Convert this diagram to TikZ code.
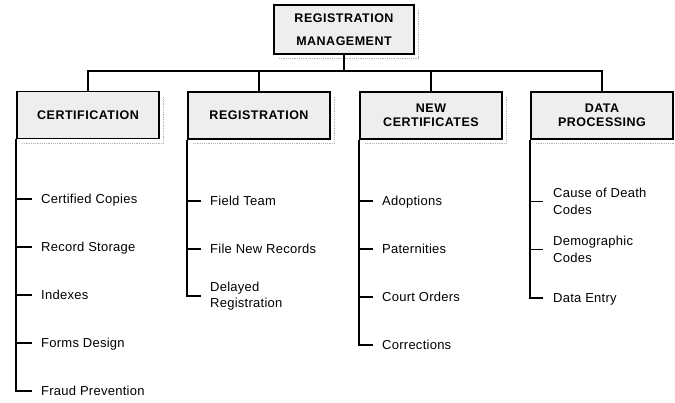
\documentclass[tikz,border=0pt]{standalone}
\usepackage{fontspec}
\setmainfont{Liberation Sans}
\newfontfamily\headfont[LetterSpace=4]{Liberation Sans}
\newfontfamily\itemfont[LetterSpace=2]{Liberation Sans}
\begin{document}
\begin{tikzpicture}[x=1pt,y=-1pt,
  unitbox/.style={draw=black, line width=1.5pt, fill=gray!13,
    minimum width=142pt, minimum height=47pt, inner sep=0pt, align=center,
    font=\headfont\bfseries\fontsize{12.5}{14}\selectfont},
  topbox/.style={unitbox, minimum width=140pt, minimum height=49pt,
    font=\headfont\bfseries\fontsize{12.5}{23}\selectfont},
  shadowline/.style={draw=gray!60, line width=1.2pt, densely dotted},
  link/.style={draw=black, line width=1.6pt},
  item/.style={anchor=west, inner sep=0pt, align=left,
    font=\itemfont\fontsize{13}{16.5}\selectfont},
  oneline/.style={item, text height=9.3pt, text depth=0pt}
]
\useasboundingbox (0,0) rectangle (675,403);

% shadows behind the unit boxes
\newcommand{\boxshadow}[1]{%
  \draw[shadowline] ([xshift=4pt,yshift=-6pt]#1.north east)
    -- ([xshift=4pt,yshift=-4pt]#1.south east)
    -- ([xshift=6pt,yshift=-4pt]#1.south west);}

% management and its four units
\node[topbox] (top) at (344,29.5) {REGISTRATION\\MANAGEMENT};
\node[unitbox] (cert) at (88,115) {CERTIFICATION};
\node[unitbox] (reg) at (259,115.5) {REGISTRATION};
\node[unitbox] (newc) at (431,115.5) {NEW\\CERTIFICATES};
\node[unitbox] (data) at (602,115.5) {DATA\\PROCESSING};
\boxshadow{top}
\boxshadow{cert}
\boxshadow{reg}
\boxshadow{newc}
\boxshadow{data}

% bus joining the units to management
\coordinate (bus) at (0,71);
\draw[link] (top.south) -- (top.south |- bus);
\draw[link] (cert.north) -- (cert.north |- bus) -- (data.north |- bus) -- (data.north);
\draw[link] (reg.north |- bus) -- (reg.north);
\draw[link] (newc.north |- bus) -- (newc.north);

% sections of each unit
\node[oneline] (c1) at (41,199) {Certified Copies};
\node[oneline] (c2) at (41,247) {Record Storage};
\node[oneline] (c3) at (41,295) {Indexes};
\node[oneline] (c4) at (41,343) {Forms Design};
\node[oneline] (c5) at (41,391) {Fraud Prevention};

\node[oneline] (r1) at (210,201) {Field Team};
\node[oneline] (r2) at (210,249) {File New Records};
\node[item] (r3) at (210,296) {Delayed\\Registration};

\node[oneline] (n1) at (382,201) {Adoptions};
\node[oneline] (n2) at (382,249) {Paternities};
\node[oneline] (n3) at (382,297) {Court Orders};
\node[oneline] (n4) at (382,345) {Corrections};

\node[item] (d1) at (553,201.5) {Cause of Death\\Codes};
\node[item] (d2) at (553,249.5) {Demographic\\Codes};
\node[oneline] (d3) at (553,298) {Data Entry};

% spines and ticks
\draw[link] (cert.south west) |- ([xshift=-9pt]c5.west);
\foreach \k in {c1,c2,c3,c4}
  \draw[link] (cert.south west |- \k.west) -- ([xshift=-9pt]\k.west);

\draw[link] (reg.south west) |- ([xshift=-9pt]r3.west);
\foreach \k in {r1,r2}
  \draw[link] (reg.south west |- \k.west) -- ([xshift=-9pt]\k.west);

\draw[link] (newc.south west) |- ([xshift=-9pt]n4.west);
\foreach \k in {n1,n2,n3}
  \draw[link] (newc.south west |- \k.west) -- ([xshift=-9pt]\k.west);

\draw[link] (data.south west) |- ([xshift=-10pt]d3.west);
\foreach \k in {d1,d2}
  \draw[link] (data.south west |- \k.west) -- ([xshift=-10pt]\k.west);
\end{tikzpicture}
\end{document}
